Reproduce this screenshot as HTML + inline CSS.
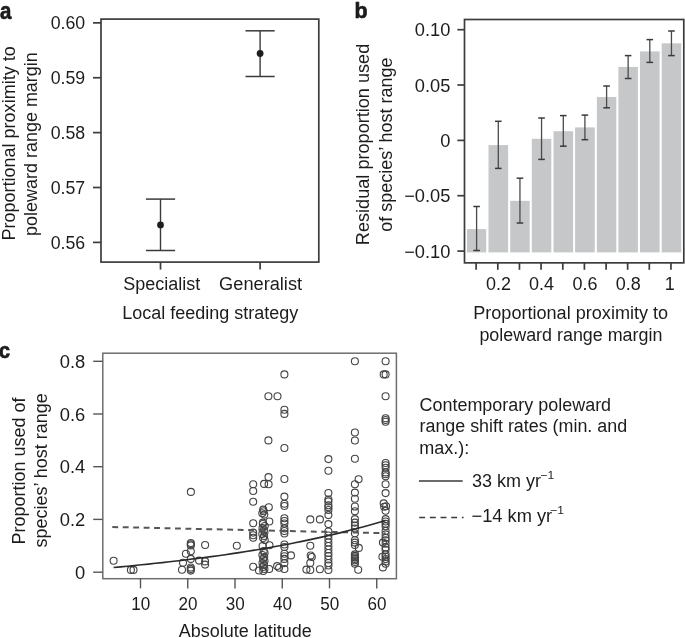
<!DOCTYPE html>
<html><head><meta charset="utf-8"><style>
html,body{margin:0;padding:0;background:#fff;}
svg{display:block;will-change:transform;}
text{font-family:"Liberation Sans",sans-serif;fill:#1c1c1c;}
</style></head><body>
<svg width="685" height="638" viewBox="0 0 685 638">
<rect width="685" height="638" fill="#fff"/>
<text transform="translate(0,18.6) scale(0.86,1)" font-size="23.8" font-weight="bold" stroke="#1c1c1c" stroke-width="0.7">a</text>
<rect x="101" y="19.1" width="217.8" height="243.0" fill="none" stroke="#3c3c3c" stroke-width="1.7"/>
<line x1="93.0" y1="22.85" x2="101" y2="22.85" stroke="#3c3c3c" stroke-width="1.7" />
<text x="85.2" y="29.35" text-anchor="end" font-size="18" textLength="34.5" lengthAdjust="spacingAndGlyphs" >0.60</text>
<line x1="93.0" y1="77.74" x2="101" y2="77.74" stroke="#3c3c3c" stroke-width="1.7" />
<text x="85.2" y="84.24" text-anchor="end" font-size="18" textLength="34.5" lengthAdjust="spacingAndGlyphs" >0.59</text>
<line x1="93.0" y1="132.6" x2="101" y2="132.6" stroke="#3c3c3c" stroke-width="1.7" />
<text x="85.2" y="139.1" text-anchor="end" font-size="18" textLength="34.5" lengthAdjust="spacingAndGlyphs" >0.58</text>
<line x1="93.0" y1="187.5" x2="101" y2="187.5" stroke="#3c3c3c" stroke-width="1.7" />
<text x="85.2" y="194.0" text-anchor="end" font-size="18" textLength="34.5" lengthAdjust="spacingAndGlyphs" >0.57</text>
<line x1="93.0" y1="242.4" x2="101" y2="242.4" stroke="#3c3c3c" stroke-width="1.7" />
<text x="85.2" y="248.9" text-anchor="end" font-size="18" textLength="34.5" lengthAdjust="spacingAndGlyphs" >0.56</text>
<line x1="160.5" y1="262" x2="160.5" y2="269.6" stroke="#3c3c3c" stroke-width="1.7" />
<line x1="260.1" y1="262" x2="260.1" y2="269.6" stroke="#3c3c3c" stroke-width="1.7" />
<text x="161.8" y="290.1" text-anchor="middle" font-size="18" textLength="77" lengthAdjust="spacingAndGlyphs" >Specialist</text>
<text x="260.6" y="290.1" text-anchor="middle" font-size="18" textLength="83" lengthAdjust="spacingAndGlyphs" >Generalist</text>
<text x="210.3" y="319.3" text-anchor="middle" font-size="18" textLength="176" lengthAdjust="spacingAndGlyphs" >Local feeding strategy</text>
<text transform="translate(14.8,143.45) rotate(-90)" text-anchor="middle" font-size="18" textLength="194.3" lengthAdjust="spacingAndGlyphs">Proportional proximity to</text>
<text transform="translate(37.1,144.05) rotate(-90)" text-anchor="middle" font-size="18" textLength="183.7" lengthAdjust="spacingAndGlyphs">poleward range margin</text>
<line x1="160.5" y1="199.1" x2="160.5" y2="250.5" stroke="#3a3a3a" stroke-width="1.4" />
<line x1="145.9" y1="199.1" x2="175.1" y2="199.1" stroke="#3a3a3a" stroke-width="1.5" />
<line x1="145.9" y1="250.5" x2="175.1" y2="250.5" stroke="#3a3a3a" stroke-width="1.5" />
<circle cx="160.5" cy="224.9" r="3.4" fill="#1e1e1e"/>
<line x1="260.1" y1="30.8" x2="260.1" y2="76.5" stroke="#3a3a3a" stroke-width="1.4" />
<line x1="245.50000000000003" y1="30.8" x2="274.70000000000005" y2="30.8" stroke="#3a3a3a" stroke-width="1.5" />
<line x1="245.50000000000003" y1="76.5" x2="274.70000000000005" y2="76.5" stroke="#3a3a3a" stroke-width="1.5" />
<circle cx="260.1" cy="53.5" r="3.4" fill="#1e1e1e"/>
<text transform="translate(354.6,18.0) scale(0.95,1)" font-size="22.5" font-weight="bold" stroke="#1c1c1c" stroke-width="0.7">b</text>
<rect x="467.0" y="229.1" width="19.2" height="23.3" fill="#c6c7c9"/>
<rect x="488.5" y="145.1" width="19.6" height="107.3" fill="#c6c7c9"/>
<rect x="510.2" y="200.8" width="19.5" height="51.6" fill="#c6c7c9"/>
<rect x="531.8" y="138.8" width="19.5" height="113.6" fill="#c6c7c9"/>
<rect x="553.5" y="131.2" width="19.6" height="121.2" fill="#c6c7c9"/>
<rect x="575.1" y="127.4" width="19.6" height="125.0" fill="#c6c7c9"/>
<rect x="596.9" y="97.0" width="19.4" height="155.4" fill="#c6c7c9"/>
<rect x="618.4" y="66.9" width="19.5" height="185.5" fill="#c6c7c9"/>
<rect x="640.0" y="51.4" width="19.6" height="201.0" fill="#c6c7c9"/>
<rect x="661.7" y="43.3" width="19.5" height="209.1" fill="#c6c7c9"/>
<line x1="476.6" y1="206.5" x2="476.6" y2="250.5" stroke="#4a4a4a" stroke-width="1.3" />
<line x1="473.3" y1="206.5" x2="479.90000000000003" y2="206.5" stroke="#3a3a3a" stroke-width="1.5" />
<line x1="473.3" y1="250.5" x2="479.90000000000003" y2="250.5" stroke="#3a3a3a" stroke-width="1.5" />
<line x1="476.1" y1="262.6" x2="476.1" y2="269.8" stroke="#3c3c3c" stroke-width="1.7" />
<line x1="498.3" y1="121.3" x2="498.3" y2="168.4" stroke="#4a4a4a" stroke-width="1.3" />
<line x1="495.0" y1="121.3" x2="501.6" y2="121.3" stroke="#3a3a3a" stroke-width="1.5" />
<line x1="495.0" y1="168.4" x2="501.6" y2="168.4" stroke="#3a3a3a" stroke-width="1.5" />
<line x1="497.8" y1="262.6" x2="497.8" y2="269.8" stroke="#3c3c3c" stroke-width="1.7" />
<text x="498.4" y="290.3" text-anchor="middle" font-size="18" textLength="25" lengthAdjust="spacingAndGlyphs" >0.2</text>
<line x1="519.95" y1="178.2" x2="519.95" y2="223.0" stroke="#4a4a4a" stroke-width="1.3" />
<line x1="516.6500000000001" y1="178.2" x2="523.25" y2="178.2" stroke="#3a3a3a" stroke-width="1.5" />
<line x1="516.6500000000001" y1="223.0" x2="523.25" y2="223.0" stroke="#3a3a3a" stroke-width="1.5" />
<line x1="519.45" y1="262.6" x2="519.45" y2="269.8" stroke="#3c3c3c" stroke-width="1.7" />
<line x1="541.55" y1="118.0" x2="541.55" y2="159.4" stroke="#4a4a4a" stroke-width="1.3" />
<line x1="538.25" y1="118.0" x2="544.8499999999999" y2="118.0" stroke="#3a3a3a" stroke-width="1.5" />
<line x1="538.25" y1="159.4" x2="544.8499999999999" y2="159.4" stroke="#3a3a3a" stroke-width="1.5" />
<line x1="541.05" y1="262.6" x2="541.05" y2="269.8" stroke="#3c3c3c" stroke-width="1.7" />
<text x="541.6" y="290.3" text-anchor="middle" font-size="18" textLength="25" lengthAdjust="spacingAndGlyphs" >0.4</text>
<line x1="563.3" y1="115.6" x2="563.3" y2="146.2" stroke="#4a4a4a" stroke-width="1.3" />
<line x1="560.0" y1="115.6" x2="566.5999999999999" y2="115.6" stroke="#3a3a3a" stroke-width="1.5" />
<line x1="560.0" y1="146.2" x2="566.5999999999999" y2="146.2" stroke="#3a3a3a" stroke-width="1.5" />
<line x1="562.8" y1="262.6" x2="562.8" y2="269.8" stroke="#3c3c3c" stroke-width="1.7" />
<line x1="584.9000000000001" y1="115.1" x2="584.9000000000001" y2="139.7" stroke="#4a4a4a" stroke-width="1.3" />
<line x1="581.6000000000001" y1="115.1" x2="588.2" y2="115.1" stroke="#3a3a3a" stroke-width="1.5" />
<line x1="581.6000000000001" y1="139.7" x2="588.2" y2="139.7" stroke="#3a3a3a" stroke-width="1.5" />
<line x1="584.4000000000001" y1="262.6" x2="584.4000000000001" y2="269.8" stroke="#3c3c3c" stroke-width="1.7" />
<text x="585.0" y="290.3" text-anchor="middle" font-size="18" textLength="25" lengthAdjust="spacingAndGlyphs" >0.6</text>
<line x1="606.5999999999999" y1="86.0" x2="606.5999999999999" y2="107.8" stroke="#4a4a4a" stroke-width="1.3" />
<line x1="603.3" y1="86.0" x2="609.8999999999999" y2="86.0" stroke="#3a3a3a" stroke-width="1.5" />
<line x1="603.3" y1="107.8" x2="609.8999999999999" y2="107.8" stroke="#3a3a3a" stroke-width="1.5" />
<line x1="606.0999999999999" y1="262.6" x2="606.0999999999999" y2="269.8" stroke="#3c3c3c" stroke-width="1.7" />
<line x1="628.15" y1="55.6" x2="628.15" y2="78.5" stroke="#4a4a4a" stroke-width="1.3" />
<line x1="624.85" y1="55.6" x2="631.4499999999999" y2="55.6" stroke="#3a3a3a" stroke-width="1.5" />
<line x1="624.85" y1="78.5" x2="631.4499999999999" y2="78.5" stroke="#3a3a3a" stroke-width="1.5" />
<line x1="627.65" y1="262.6" x2="627.65" y2="269.8" stroke="#3c3c3c" stroke-width="1.7" />
<text x="628.2" y="290.3" text-anchor="middle" font-size="18" textLength="25" lengthAdjust="spacingAndGlyphs" >0.8</text>
<line x1="649.8" y1="39.6" x2="649.8" y2="62.4" stroke="#4a4a4a" stroke-width="1.3" />
<line x1="646.5" y1="39.6" x2="653.0999999999999" y2="39.6" stroke="#3a3a3a" stroke-width="1.5" />
<line x1="646.5" y1="62.4" x2="653.0999999999999" y2="62.4" stroke="#3a3a3a" stroke-width="1.5" />
<line x1="649.3" y1="262.6" x2="649.3" y2="269.8" stroke="#3c3c3c" stroke-width="1.7" />
<line x1="671.45" y1="31.0" x2="671.45" y2="55.6" stroke="#4a4a4a" stroke-width="1.3" />
<line x1="668.1500000000001" y1="31.0" x2="674.75" y2="31.0" stroke="#3a3a3a" stroke-width="1.5" />
<line x1="668.1500000000001" y1="55.6" x2="674.75" y2="55.6" stroke="#3a3a3a" stroke-width="1.5" />
<line x1="670.95" y1="262.6" x2="670.95" y2="269.8" stroke="#3c3c3c" stroke-width="1.7" />
<text x="669.7" y="290.3" text-anchor="middle" font-size="18" >1</text>
<rect x="464.5" y="19.5" width="219.3" height="243.35" fill="none" stroke="#3c3c3c" stroke-width="1.7"/>
<line x1="457.4" y1="29.7" x2="464.5" y2="29.7" stroke="#3c3c3c" stroke-width="1.7" />
<text transform="translate(450.4,36.3) scale(1.015,1)" text-anchor="end" font-size="18" >0.10</text>
<line x1="457.4" y1="85.0" x2="464.5" y2="85.0" stroke="#3c3c3c" stroke-width="1.7" />
<text transform="translate(450.4,91.6) scale(1.015,1)" text-anchor="end" font-size="18" >0.05</text>
<line x1="457.4" y1="140.4" x2="464.5" y2="140.4" stroke="#3c3c3c" stroke-width="1.7" />
<text transform="translate(450.4,147.0) scale(1.015,1)" text-anchor="end" font-size="18" >0</text>
<line x1="457.4" y1="195.7" x2="464.5" y2="195.7" stroke="#3c3c3c" stroke-width="1.7" />
<text transform="translate(450.4,202.29999999999998) scale(1.015,1)" text-anchor="end" font-size="18" >−0.05</text>
<line x1="457.4" y1="251.1" x2="464.5" y2="251.1" stroke="#3c3c3c" stroke-width="1.7" />
<text transform="translate(450.4,257.7) scale(1.015,1)" text-anchor="end" font-size="18" >−0.10</text>
<text x="570.7" y="318.9" text-anchor="middle" font-size="18" textLength="195" lengthAdjust="spacingAndGlyphs" >Proportional proximity to</text>
<text x="570.9" y="341.2" text-anchor="middle" font-size="18" textLength="183" lengthAdjust="spacingAndGlyphs" >poleward range margin</text>
<text transform="translate(369.4,144.45) rotate(-90)" text-anchor="middle" font-size="18" textLength="201.4" lengthAdjust="spacingAndGlyphs">Residual proportion used</text>
<text transform="translate(391.8,144.65) rotate(-90)" text-anchor="middle" font-size="18" textLength="174.1" lengthAdjust="spacingAndGlyphs">of species’ host range</text>
<text transform="translate(-1.0,358.4) scale(0.9,1)" font-size="22" font-weight="bold" stroke="#1c1c1c" stroke-width="0.7">c</text>
<rect x="102.8" y="353.2" width="293.6" height="225.5" fill="none" stroke="#6e6e6e" stroke-width="1.5"/>
<line x1="93.2" y1="361.3" x2="102.8" y2="361.3" stroke="#555" stroke-width="1.4" />
<text transform="translate(85.2,368.0) scale(1.02,1)" text-anchor="end" font-size="18" >0.8</text>
<line x1="93.2" y1="414.0" x2="102.8" y2="414.0" stroke="#555" stroke-width="1.4" />
<text transform="translate(85.2,420.7) scale(1.02,1)" text-anchor="end" font-size="18" >0.6</text>
<line x1="93.2" y1="466.7" x2="102.8" y2="466.7" stroke="#555" stroke-width="1.4" />
<text transform="translate(85.2,473.4) scale(1.02,1)" text-anchor="end" font-size="18" >0.4</text>
<line x1="93.2" y1="519.4" x2="102.8" y2="519.4" stroke="#555" stroke-width="1.4" />
<text transform="translate(85.2,526.1) scale(1.02,1)" text-anchor="end" font-size="18" >0.2</text>
<line x1="93.2" y1="572.2" x2="102.8" y2="572.2" stroke="#555" stroke-width="1.4" />
<text transform="translate(85.2,578.9000000000001) scale(1.02,1)" text-anchor="end" font-size="18" >0</text>
<line x1="140.5" y1="578.3" x2="140.5" y2="588.4" stroke="#555" stroke-width="1.4" />
<text x="140.7" y="609.5" text-anchor="middle" font-size="18" textLength="19" lengthAdjust="spacingAndGlyphs" >10</text>
<line x1="187.75" y1="578.3" x2="187.75" y2="588.4" stroke="#555" stroke-width="1.4" />
<text x="187.9" y="609.5" text-anchor="middle" font-size="18" textLength="19" lengthAdjust="spacingAndGlyphs" >20</text>
<line x1="235.0" y1="578.3" x2="235.0" y2="588.4" stroke="#555" stroke-width="1.4" />
<text x="235.2" y="609.5" text-anchor="middle" font-size="18" textLength="19" lengthAdjust="spacingAndGlyphs" >30</text>
<line x1="282.25" y1="578.3" x2="282.25" y2="588.4" stroke="#555" stroke-width="1.4" />
<text x="282.4" y="609.5" text-anchor="middle" font-size="18" textLength="19" lengthAdjust="spacingAndGlyphs" >40</text>
<line x1="329.5" y1="578.3" x2="329.5" y2="588.4" stroke="#555" stroke-width="1.4" />
<text x="329.7" y="609.5" text-anchor="middle" font-size="18" textLength="19" lengthAdjust="spacingAndGlyphs" >50</text>
<line x1="376.75" y1="578.3" x2="376.75" y2="588.4" stroke="#555" stroke-width="1.4" />
<text x="376.9" y="609.5" text-anchor="middle" font-size="18" textLength="19" lengthAdjust="spacingAndGlyphs" >60</text>
<text x="245.3" y="637.1" text-anchor="middle" font-size="18" textLength="133" lengthAdjust="spacingAndGlyphs" >Absolute latitude</text>
<text transform="translate(25.0,470.9) rotate(-90)" text-anchor="middle" font-size="18" textLength="147" lengthAdjust="spacingAndGlyphs">Proportion used of</text>
<text transform="translate(46.8,470.4) rotate(-90)" text-anchor="middle" font-size="18" textLength="154.4" lengthAdjust="spacingAndGlyphs">species’ host range</text>
<circle cx="113.6" cy="560.8" r="3.5" fill="none" stroke="#444" stroke-width="1.1"/>
<circle cx="130.9" cy="569.9" r="3.5" fill="none" stroke="#444" stroke-width="1.1"/>
<circle cx="133.5" cy="569.9" r="3.5" fill="none" stroke="#444" stroke-width="1.1"/>
<circle cx="182.0" cy="569.7" r="3.5" fill="none" stroke="#444" stroke-width="1.1"/>
<circle cx="183.0" cy="562.7" r="3.5" fill="none" stroke="#444" stroke-width="1.1"/>
<circle cx="185.9" cy="553.8" r="3.5" fill="none" stroke="#444" stroke-width="1.1"/>
<circle cx="199.1" cy="560.6" r="3.5" fill="none" stroke="#444" stroke-width="1.1"/>
<circle cx="205.1" cy="545.0" r="3.5" fill="none" stroke="#444" stroke-width="1.1"/>
<circle cx="205.1" cy="561.4" r="3.5" fill="none" stroke="#444" stroke-width="1.1"/>
<circle cx="205.1" cy="564.6" r="3.5" fill="none" stroke="#444" stroke-width="1.1"/>
<circle cx="190.9" cy="491.9" r="3.5" fill="none" stroke="#444" stroke-width="1.1"/>
<circle cx="190.8" cy="543.0" r="3.5" fill="none" stroke="#444" stroke-width="1.1"/>
<circle cx="190.8" cy="544.2" r="3.5" fill="none" stroke="#444" stroke-width="1.1"/>
<circle cx="190.8" cy="545.4" r="3.5" fill="none" stroke="#444" stroke-width="1.1"/>
<circle cx="190.8" cy="551.2" r="3.5" fill="none" stroke="#444" stroke-width="1.1"/>
<circle cx="190.8" cy="558.9" r="3.5" fill="none" stroke="#444" stroke-width="1.1"/>
<circle cx="190.8" cy="567.5" r="3.5" fill="none" stroke="#444" stroke-width="1.1"/>
<circle cx="190.8" cy="569.1" r="3.5" fill="none" stroke="#444" stroke-width="1.1"/>
<circle cx="190.8" cy="570.6" r="3.5" fill="none" stroke="#444" stroke-width="1.1"/>
<circle cx="236.8" cy="545.7" r="3.5" fill="none" stroke="#444" stroke-width="1.1"/>
<circle cx="253.2" cy="484.2" r="3.5" fill="none" stroke="#444" stroke-width="1.1"/>
<circle cx="253.2" cy="491.0" r="3.5" fill="none" stroke="#444" stroke-width="1.1"/>
<circle cx="253.2" cy="501.8" r="3.5" fill="none" stroke="#444" stroke-width="1.1"/>
<circle cx="253.2" cy="523.2" r="3.5" fill="none" stroke="#444" stroke-width="1.1"/>
<circle cx="253.2" cy="532.6" r="3.5" fill="none" stroke="#444" stroke-width="1.1"/>
<circle cx="253.2" cy="535.2" r="3.5" fill="none" stroke="#444" stroke-width="1.1"/>
<circle cx="253.2" cy="537.7" r="3.5" fill="none" stroke="#444" stroke-width="1.1"/>
<circle cx="253.2" cy="566.8" r="3.5" fill="none" stroke="#444" stroke-width="1.1"/>
<circle cx="259.0" cy="570.5" r="3.5" fill="none" stroke="#444" stroke-width="1.1"/>
<circle cx="264.1" cy="483.9" r="3.5" fill="none" stroke="#444" stroke-width="1.1"/>
<circle cx="263.2" cy="509.6" r="3.5" fill="none" stroke="#444" stroke-width="1.1"/>
<circle cx="262.9" cy="522.6" r="3.5" fill="none" stroke="#444" stroke-width="1.1"/>
<circle cx="263.5" cy="511.3" r="3.5" fill="none" stroke="#444" stroke-width="1.1"/>
<circle cx="262.3" cy="513.2" r="3.5" fill="none" stroke="#444" stroke-width="1.1"/>
<circle cx="264.3" cy="514.6" r="3.5" fill="none" stroke="#444" stroke-width="1.1"/>
<circle cx="262.9" cy="524" r="3.5" fill="none" stroke="#444" stroke-width="1.1"/>
<circle cx="264.7" cy="526" r="3.5" fill="none" stroke="#444" stroke-width="1.1"/>
<circle cx="262.5" cy="528" r="3.5" fill="none" stroke="#444" stroke-width="1.1"/>
<circle cx="263.9" cy="530" r="3.5" fill="none" stroke="#444" stroke-width="1.1"/>
<circle cx="264.5" cy="532" r="3.5" fill="none" stroke="#444" stroke-width="1.1"/>
<circle cx="262.3" cy="534" r="3.5" fill="none" stroke="#444" stroke-width="1.1"/>
<circle cx="264.1" cy="536" r="3.5" fill="none" stroke="#444" stroke-width="1.1"/>
<circle cx="263.1" cy="538" r="3.5" fill="none" stroke="#444" stroke-width="1.1"/>
<circle cx="264.7" cy="540" r="3.5" fill="none" stroke="#444" stroke-width="1.1"/>
<circle cx="262.6" cy="546" r="3.5" fill="none" stroke="#444" stroke-width="1.1"/>
<circle cx="263.7" cy="551" r="3.5" fill="none" stroke="#444" stroke-width="1.1"/>
<circle cx="264.6" cy="553" r="3.5" fill="none" stroke="#444" stroke-width="1.1"/>
<circle cx="262.4" cy="555" r="3.5" fill="none" stroke="#444" stroke-width="1.1"/>
<circle cx="264.2" cy="557" r="3.5" fill="none" stroke="#444" stroke-width="1.1"/>
<circle cx="263.2" cy="559" r="3.5" fill="none" stroke="#444" stroke-width="1.1"/>
<circle cx="264.5" cy="561" r="3.5" fill="none" stroke="#444" stroke-width="1.1"/>
<circle cx="262.5" cy="563" r="3.5" fill="none" stroke="#444" stroke-width="1.1"/>
<circle cx="264.0" cy="565" r="3.5" fill="none" stroke="#444" stroke-width="1.1"/>
<circle cx="262.9" cy="567" r="3.5" fill="none" stroke="#444" stroke-width="1.1"/>
<circle cx="264.4" cy="569" r="3.5" fill="none" stroke="#444" stroke-width="1.1"/>
<circle cx="263.3" cy="571" r="3.5" fill="none" stroke="#444" stroke-width="1.1"/>
<circle cx="268.4" cy="396.3" r="3.5" fill="none" stroke="#444" stroke-width="1.1"/>
<circle cx="268.4" cy="440.4" r="3.5" fill="none" stroke="#444" stroke-width="1.1"/>
<circle cx="268.5" cy="477.1" r="3.5" fill="none" stroke="#444" stroke-width="1.1"/>
<circle cx="268.6" cy="484.3" r="3.5" fill="none" stroke="#444" stroke-width="1.1"/>
<circle cx="268.8" cy="507.2" r="3.5" fill="none" stroke="#444" stroke-width="1.1"/>
<circle cx="269.3" cy="521.5" r="3.5" fill="none" stroke="#444" stroke-width="1.1"/>
<circle cx="269.5" cy="545.2" r="3.5" fill="none" stroke="#444" stroke-width="1.1"/>
<circle cx="269.2" cy="569.0" r="3.5" fill="none" stroke="#444" stroke-width="1.1"/>
<circle cx="277.5" cy="396.3" r="3.5" fill="none" stroke="#444" stroke-width="1.1"/>
<circle cx="277.1" cy="566.1" r="3.5" fill="none" stroke="#444" stroke-width="1.1"/>
<circle cx="279.1" cy="567.7" r="3.5" fill="none" stroke="#444" stroke-width="1.1"/>
<circle cx="284.4" cy="374.4" r="3.5" fill="none" stroke="#444" stroke-width="1.1"/>
<circle cx="284.4" cy="409.8" r="3.5" fill="none" stroke="#444" stroke-width="1.1"/>
<circle cx="284.4" cy="413.9" r="3.5" fill="none" stroke="#444" stroke-width="1.1"/>
<circle cx="284.4" cy="448.0" r="3.5" fill="none" stroke="#444" stroke-width="1.1"/>
<circle cx="284.4" cy="479.0" r="3.5" fill="none" stroke="#444" stroke-width="1.1"/>
<circle cx="284.4" cy="496.6" r="3.5" fill="none" stroke="#444" stroke-width="1.1"/>
<circle cx="284.4" cy="503.8" r="3.5" fill="none" stroke="#444" stroke-width="1.1"/>
<circle cx="284.4" cy="506.0" r="3.5" fill="none" stroke="#444" stroke-width="1.1"/>
<circle cx="284.4" cy="518.3" r="3.5" fill="none" stroke="#444" stroke-width="1.1"/>
<circle cx="284.4" cy="521.0" r="3.5" fill="none" stroke="#444" stroke-width="1.1"/>
<circle cx="284.4" cy="523.5" r="3.5" fill="none" stroke="#444" stroke-width="1.1"/>
<circle cx="284.4" cy="528.4" r="3.5" fill="none" stroke="#444" stroke-width="1.1"/>
<circle cx="284.4" cy="531.0" r="3.5" fill="none" stroke="#444" stroke-width="1.1"/>
<circle cx="284.4" cy="533.5" r="3.5" fill="none" stroke="#444" stroke-width="1.1"/>
<circle cx="284.4" cy="544.5" r="3.5" fill="none" stroke="#444" stroke-width="1.1"/>
<circle cx="284.4" cy="547.0" r="3.5" fill="none" stroke="#444" stroke-width="1.1"/>
<circle cx="284.4" cy="553.8" r="3.5" fill="none" stroke="#444" stroke-width="1.1"/>
<circle cx="284.4" cy="556.3" r="3.5" fill="none" stroke="#444" stroke-width="1.1"/>
<circle cx="284.4" cy="558.9" r="3.5" fill="none" stroke="#444" stroke-width="1.1"/>
<circle cx="284.4" cy="563.1" r="3.5" fill="none" stroke="#444" stroke-width="1.1"/>
<circle cx="284.4" cy="569.0" r="3.5" fill="none" stroke="#444" stroke-width="1.1"/>
<circle cx="291.0" cy="555.4" r="3.5" fill="none" stroke="#444" stroke-width="1.1"/>
<circle cx="306.4" cy="569.6" r="3.5" fill="none" stroke="#444" stroke-width="1.1"/>
<circle cx="310.3" cy="519.4" r="3.5" fill="none" stroke="#444" stroke-width="1.1"/>
<circle cx="310.3" cy="545.7" r="3.5" fill="none" stroke="#444" stroke-width="1.1"/>
<circle cx="310.7" cy="555.5" r="3.5" fill="none" stroke="#444" stroke-width="1.1"/>
<circle cx="311.8" cy="557.0" r="3.5" fill="none" stroke="#444" stroke-width="1.1"/>
<circle cx="310.3" cy="562.9" r="3.5" fill="none" stroke="#444" stroke-width="1.1"/>
<circle cx="310.3" cy="570.0" r="3.5" fill="none" stroke="#444" stroke-width="1.1"/>
<circle cx="319.9" cy="519.4" r="3.5" fill="none" stroke="#444" stroke-width="1.1"/>
<circle cx="319.9" cy="569.2" r="3.5" fill="none" stroke="#444" stroke-width="1.1"/>
<circle cx="328.4" cy="459.1" r="3.5" fill="none" stroke="#444" stroke-width="1.1"/>
<circle cx="328.4" cy="470.8" r="3.5" fill="none" stroke="#444" stroke-width="1.1"/>
<circle cx="328.4" cy="493.0" r="3.5" fill="none" stroke="#444" stroke-width="1.1"/>
<circle cx="328.4" cy="499.5" r="3.5" fill="none" stroke="#444" stroke-width="1.1"/>
<circle cx="328.4" cy="501.4" r="3.5" fill="none" stroke="#444" stroke-width="1.1"/>
<circle cx="328.4" cy="505.3" r="3.5" fill="none" stroke="#444" stroke-width="1.1"/>
<circle cx="328.4" cy="507.2" r="3.5" fill="none" stroke="#444" stroke-width="1.1"/>
<circle cx="328.4" cy="510.0" r="3.5" fill="none" stroke="#444" stroke-width="1.1"/>
<circle cx="328.4" cy="515.1" r="3.5" fill="none" stroke="#444" stroke-width="1.1"/>
<circle cx="328.4" cy="524.1" r="3.5" fill="none" stroke="#444" stroke-width="1.1"/>
<circle cx="328.4" cy="531.5" r="3.5" fill="none" stroke="#444" stroke-width="1.1"/>
<circle cx="328.4" cy="535.5" r="3.5" fill="none" stroke="#444" stroke-width="1.1"/>
<circle cx="328.4" cy="539" r="3.5" fill="none" stroke="#444" stroke-width="1.1"/>
<circle cx="328.4" cy="542.5" r="3.5" fill="none" stroke="#444" stroke-width="1.1"/>
<circle cx="328.4" cy="546" r="3.5" fill="none" stroke="#444" stroke-width="1.1"/>
<circle cx="328.4" cy="549.5" r="3.5" fill="none" stroke="#444" stroke-width="1.1"/>
<circle cx="328.4" cy="553" r="3.5" fill="none" stroke="#444" stroke-width="1.1"/>
<circle cx="328.4" cy="556" r="3.5" fill="none" stroke="#444" stroke-width="1.1"/>
<circle cx="328.4" cy="559.5" r="3.5" fill="none" stroke="#444" stroke-width="1.1"/>
<circle cx="328.4" cy="563" r="3.5" fill="none" stroke="#444" stroke-width="1.1"/>
<circle cx="328.4" cy="565.5" r="3.5" fill="none" stroke="#444" stroke-width="1.1"/>
<circle cx="328.4" cy="570" r="3.5" fill="none" stroke="#444" stroke-width="1.1"/>
<circle cx="354.9" cy="361.3" r="3.5" fill="none" stroke="#444" stroke-width="1.1"/>
<circle cx="354.9" cy="432.5" r="3.5" fill="none" stroke="#444" stroke-width="1.1"/>
<circle cx="354.9" cy="440.5" r="3.5" fill="none" stroke="#444" stroke-width="1.1"/>
<circle cx="354.9" cy="458.8" r="3.5" fill="none" stroke="#444" stroke-width="1.1"/>
<circle cx="354.9" cy="484.2" r="3.5" fill="none" stroke="#444" stroke-width="1.1"/>
<circle cx="354.9" cy="492.6" r="3.5" fill="none" stroke="#444" stroke-width="1.1"/>
<circle cx="354.9" cy="498.7" r="3.5" fill="none" stroke="#444" stroke-width="1.1"/>
<circle cx="354.9" cy="506.5" r="3.5" fill="none" stroke="#444" stroke-width="1.1"/>
<circle cx="354.9" cy="511.2" r="3.5" fill="none" stroke="#444" stroke-width="1.1"/>
<circle cx="354.9" cy="519.1" r="3.5" fill="none" stroke="#444" stroke-width="1.1"/>
<circle cx="354.9" cy="522.6" r="3.5" fill="none" stroke="#444" stroke-width="1.1"/>
<circle cx="354.9" cy="525.6" r="3.5" fill="none" stroke="#444" stroke-width="1.1"/>
<circle cx="354.9" cy="528.5" r="3.5" fill="none" stroke="#444" stroke-width="1.1"/>
<circle cx="354.9" cy="533.2" r="3.5" fill="none" stroke="#444" stroke-width="1.1"/>
<circle cx="354.9" cy="540.3" r="3.5" fill="none" stroke="#444" stroke-width="1.1"/>
<circle cx="354.9" cy="542.6" r="3.5" fill="none" stroke="#444" stroke-width="1.1"/>
<circle cx="354.9" cy="545.0" r="3.5" fill="none" stroke="#444" stroke-width="1.1"/>
<circle cx="354.9" cy="554.4" r="3.5" fill="none" stroke="#444" stroke-width="1.1"/>
<circle cx="354.9" cy="555.9" r="3.5" fill="none" stroke="#444" stroke-width="1.1"/>
<circle cx="354.9" cy="557.4" r="3.5" fill="none" stroke="#444" stroke-width="1.1"/>
<circle cx="354.9" cy="558.9" r="3.5" fill="none" stroke="#444" stroke-width="1.1"/>
<circle cx="354.9" cy="560.3" r="3.5" fill="none" stroke="#444" stroke-width="1.1"/>
<circle cx="354.9" cy="562.0" r="3.5" fill="none" stroke="#444" stroke-width="1.1"/>
<circle cx="354.9" cy="563.8" r="3.5" fill="none" stroke="#444" stroke-width="1.1"/>
<circle cx="358.6" cy="479.3" r="3.5" fill="none" stroke="#444" stroke-width="1.1"/>
<circle cx="358.8" cy="547.9" r="3.5" fill="none" stroke="#444" stroke-width="1.1"/>
<circle cx="358.2" cy="569.7" r="3.5" fill="none" stroke="#444" stroke-width="1.1"/>
<circle cx="385.6" cy="361.3" r="3.5" fill="none" stroke="#444" stroke-width="1.1"/>
<circle cx="385.6" cy="374.4" r="3.5" fill="none" stroke="#444" stroke-width="1.1"/>
<circle cx="385.6" cy="396.3" r="3.5" fill="none" stroke="#444" stroke-width="1.1"/>
<circle cx="385.6" cy="418.3" r="3.5" fill="none" stroke="#444" stroke-width="1.1"/>
<circle cx="385.6" cy="420.0" r="3.5" fill="none" stroke="#444" stroke-width="1.1"/>
<circle cx="385.6" cy="421.7" r="3.5" fill="none" stroke="#444" stroke-width="1.1"/>
<circle cx="385.6" cy="463.0" r="3.5" fill="none" stroke="#444" stroke-width="1.1"/>
<circle cx="385.6" cy="465.3" r="3.5" fill="none" stroke="#444" stroke-width="1.1"/>
<circle cx="385.6" cy="467.7" r="3.5" fill="none" stroke="#444" stroke-width="1.1"/>
<circle cx="385.6" cy="472.4" r="3.5" fill="none" stroke="#444" stroke-width="1.1"/>
<circle cx="385.6" cy="474.3" r="3.5" fill="none" stroke="#444" stroke-width="1.1"/>
<circle cx="385.6" cy="476.2" r="3.5" fill="none" stroke="#444" stroke-width="1.1"/>
<circle cx="385.6" cy="484.2" r="3.5" fill="none" stroke="#444" stroke-width="1.1"/>
<circle cx="385.6" cy="493.1" r="3.5" fill="none" stroke="#444" stroke-width="1.1"/>
<circle cx="385.6" cy="510.8" r="3.5" fill="none" stroke="#444" stroke-width="1.1"/>
<circle cx="385.6" cy="519.1" r="3.5" fill="none" stroke="#444" stroke-width="1.1"/>
<circle cx="385.6" cy="521.5" r="3.5" fill="none" stroke="#444" stroke-width="1.1"/>
<circle cx="385.6" cy="523.8" r="3.5" fill="none" stroke="#444" stroke-width="1.1"/>
<circle cx="385.6" cy="526.2" r="3.5" fill="none" stroke="#444" stroke-width="1.1"/>
<circle cx="385.6" cy="530.9" r="3.5" fill="none" stroke="#444" stroke-width="1.1"/>
<circle cx="385.6" cy="534.4" r="3.5" fill="none" stroke="#444" stroke-width="1.1"/>
<circle cx="385.6" cy="537.9" r="3.5" fill="none" stroke="#444" stroke-width="1.1"/>
<circle cx="385.6" cy="540.3" r="3.5" fill="none" stroke="#444" stroke-width="1.1"/>
<circle cx="385.6" cy="543.8" r="3.5" fill="none" stroke="#444" stroke-width="1.1"/>
<circle cx="385.6" cy="547.4" r="3.5" fill="none" stroke="#444" stroke-width="1.1"/>
<circle cx="385.6" cy="549.7" r="3.5" fill="none" stroke="#444" stroke-width="1.1"/>
<circle cx="385.6" cy="554.4" r="3.5" fill="none" stroke="#444" stroke-width="1.1"/>
<circle cx="385.6" cy="556.8" r="3.5" fill="none" stroke="#444" stroke-width="1.1"/>
<circle cx="385.6" cy="559.1" r="3.5" fill="none" stroke="#444" stroke-width="1.1"/>
<circle cx="385.6" cy="561.5" r="3.5" fill="none" stroke="#444" stroke-width="1.1"/>
<circle cx="385.6" cy="563.8" r="3.5" fill="none" stroke="#444" stroke-width="1.1"/>
<circle cx="383.7" cy="374.4" r="3.5" fill="none" stroke="#444" stroke-width="1.1"/>
<circle cx="383.7" cy="503.4" r="3.5" fill="none" stroke="#444" stroke-width="1.1"/>
<circle cx="386.1" cy="506.3" r="3.5" fill="none" stroke="#444" stroke-width="1.1"/>
<circle cx="384.2" cy="506.7" r="3.5" fill="none" stroke="#444" stroke-width="1.1"/>
<circle cx="382.9" cy="542.6" r="3.5" fill="none" stroke="#444" stroke-width="1.1"/>
<circle cx="382.4" cy="556.8" r="3.5" fill="none" stroke="#444" stroke-width="1.1"/>
<circle cx="382.9" cy="567.4" r="3.5" fill="none" stroke="#444" stroke-width="1.1"/>
<line x1="112.3" y1="527.0" x2="385.6" y2="533.2" stroke="#565656" stroke-width="2" stroke-dasharray="5.9,4.55"/>
<path d="M113.6,567.5 L120.6,566.9 L127.5,566.2 L134.5,565.5 L141.5,564.8 L148.5,564.1 L155.4,563.3 L162.4,562.6 L169.4,561.8 L176.4,561.0 L183.3,560.2 L190.3,559.3 L197.3,558.4 L204.3,557.5 L211.2,556.6 L218.2,555.7 L225.2,554.7 L232.2,553.6 L239.1,552.6 L246.1,551.5 L253.1,550.4 L260.1,549.2 L267.0,548.0 L274.0,546.8 L281.0,545.5 L288.0,544.2 L294.9,542.8 L301.9,541.4 L308.9,539.9 L315.9,538.4 L322.8,536.9 L329.8,535.3 L336.8,533.6 L343.8,531.9 L350.7,530.1 L357.7,528.3 L364.7,526.4 L371.7,524.5 L378.6,522.5 L385.6,520.4" fill="none" stroke="#2a2a2a" stroke-width="1.6"/>
<text x="419.5" y="410.7" text-anchor="start" font-size="18" textLength="191.6" lengthAdjust="spacingAndGlyphs" >Contemporary poleward</text>
<text x="419.5" y="432" text-anchor="start" font-size="18" textLength="207.6" lengthAdjust="spacingAndGlyphs" >range shift rates (min. and</text>
<text transform="translate(419.3,454.1) scale(1.0,1)" text-anchor="start" font-size="18" >max.):</text>
<line x1="418.9" y1="481.0" x2="462.7" y2="481.0" stroke="#3a3a3a" stroke-width="1.5" />
<text transform="translate(472,487.4) scale(1.0,1)" font-size="18">33 km yr</text>
<text transform="translate(540.4,479.0) scale(1.05,1)" font-size="11.5">−1</text>
<line x1="419.2" y1="517.5" x2="463.6" y2="517.5" stroke="#3a3a3a" stroke-width="1.7" stroke-dasharray="5.9,4.77"/>
<text transform="translate(471.5,521.6) scale(1.015,1)" font-size="18">−14 km yr</text>
<text transform="translate(550.3,513.7) scale(1.05,1)" font-size="11.5">−1</text>
</svg>
</body></html>
